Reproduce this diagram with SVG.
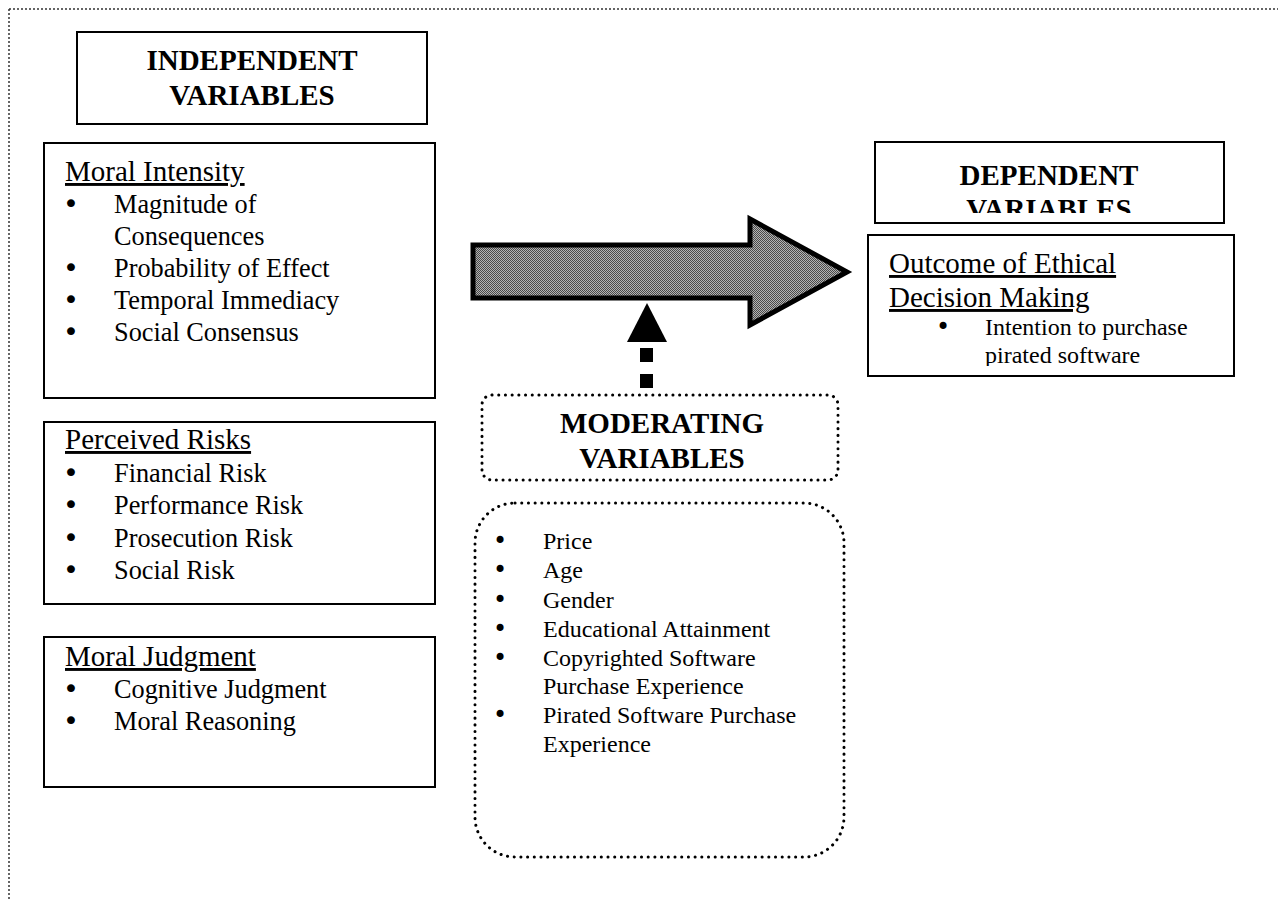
<svg xmlns="http://www.w3.org/2000/svg" width="1278" height="899" viewBox="0 0 1278 899">
  <defs>
    <style>
      text { font-family: "Liberation Serif", "Times New Roman", serif; fill: #000; }
      .hdr { font-size: 29px; font-weight: bold; text-anchor: middle; }
      .ttl { font-size: 29px; text-decoration: underline; }
      .itm { font-size: 26.3px; }
      .sm { font-size: 24px; }
      .bl { font-family: "DejaVu Sans", sans-serif; font-size: 27px; }
      .bs { font-family: "DejaVu Sans", sans-serif; font-size: 24px; }
      .box { fill: #fff; stroke: #000; stroke-width: 2; }
      .dot { fill: none; stroke: #000; stroke-width: 3; stroke-linecap: round; stroke-dasharray: 0.1 6.6; }
      .page { fill: none; stroke: #333; stroke-width: 1.5; stroke-dasharray: 2 2; }
    </style>
    <pattern id="checker" x="0" y="0" width="2" height="2" patternUnits="userSpaceOnUse">
      <rect width="2" height="2" fill="#b4b4b4"/>
      <rect width="1" height="1" fill="#4a4a4a"/>
      <rect x="1" y="1" width="1" height="1" fill="#4a4a4a"/>
    </pattern>
    <clipPath id="clipDep"><rect x="876" y="143" width="347" height="70"/></clipPath>
    <clipPath id="clipOut"><rect x="869" y="236" width="364" height="130"/></clipPath>
  </defs>

  <g id="page-border">
    <line class="page" x1="9" y1="9" x2="1278" y2="9"/>
    <line class="page" x1="9" y1="9" x2="9" y2="899"/>
  </g>

  <g id="independent-header">
    <rect class="box" x="77" y="32" width="350" height="92"/>
    <text class="hdr" x="252" y="70">INDEPENDENT</text>
    <text class="hdr" x="252" y="105">VARIABLES</text>
  </g>

  <g id="moral-intensity">
    <rect class="box" x="44" y="143" width="391" height="255"/>
    <text class="ttl" x="65" y="181">Moral Intensity</text>
    <text class="bl" x="63" y="213">•</text>
    <text class="itm" x="114" y="213">Magnitude of</text>
    <text class="itm" x="114" y="245">Consequences</text>
    <text class="bl" x="63" y="277">•</text>
    <text class="itm" x="114" y="277">Probability of Effect</text>
    <text class="bl" x="63" y="309">•</text>
    <text class="itm" x="114" y="309">Temporal Immediacy</text>
    <text class="bl" x="63" y="341">•</text>
    <text class="itm" x="114" y="341">Social Consensus</text>
  </g>

  <g id="perceived-risks">
    <rect class="box" x="44" y="422" width="391" height="182"/>
    <text class="ttl" x="65" y="449">Perceived Risks</text>
    <text class="bl" x="63" y="482">•</text>
    <text class="itm" x="114" y="482">Financial Risk</text>
    <text class="bl" x="63" y="514">•</text>
    <text class="itm" x="114" y="514">Performance Risk</text>
    <text class="bl" x="63" y="547">•</text>
    <text class="itm" x="114" y="547">Prosecution Risk</text>
    <text class="bl" x="63" y="579">•</text>
    <text class="itm" x="114" y="579">Social Risk</text>
  </g>

  <g id="moral-judgment">
    <rect class="box" x="44" y="637" width="391" height="150"/>
    <text class="ttl" x="65" y="666">Moral Judgment</text>
    <text class="bl" x="63" y="698">•</text>
    <text class="itm" x="114" y="698">Cognitive Judgment</text>
    <text class="bl" x="63" y="730">•</text>
    <text class="itm" x="114" y="730">Moral Reasoning</text>
  </g>

  <g id="dependent-header">
    <rect class="box" x="875" y="142" width="349" height="81"/>
    <g clip-path="url(#clipDep)">
      <text class="hdr" x="1049" y="185">DEPENDENT</text>
      <text class="hdr" x="1049" y="219">VARIABLES</text>
    </g>
  </g>

  <g id="outcome">
    <rect class="box" x="868" y="235" width="366" height="141"/>
    <g clip-path="url(#clipOut)">
      <text class="ttl" x="889" y="273">Outcome of Ethical</text>
      <text class="ttl" x="889" y="307">Decision Making</text>
      <text class="bs" x="936" y="335">•</text>
      <text class="sm" x="985" y="335">Intention to purchase</text>
      <text class="sm" x="985" y="363">pirated software</text>
    </g>
  </g>

  <g id="moderating-header">
    <rect class="dot" x="482" y="395" width="356" height="85" rx="10" ry="10"/>
    <text class="hdr" x="662" y="433">MODERATING</text>
    <text class="hdr" x="662" y="468">VARIABLES</text>
  </g>

  <g id="moderating-list">
    <rect class="dot" x="475" y="503" width="369" height="354" rx="40" ry="40"/>
    <text class="bs" x="493" y="549">•</text>
    <text class="sm" x="543" y="549">Price</text>
    <text class="bs" x="493" y="578">•</text>
    <text class="sm" x="543" y="578">Age</text>
    <text class="bs" x="493" y="608">•</text>
    <text class="sm" x="543" y="608">Gender</text>
    <text class="bs" x="493" y="637">•</text>
    <text class="sm" x="543" y="637">Educational Attainment</text>
    <text class="bs" x="493" y="666">•</text>
    <text class="sm" x="543" y="666">Copyrighted Software</text>
    <text class="sm" x="543" y="694">Purchase Experience</text>
    <text class="bs" x="493" y="723">•</text>
    <text class="sm" x="543" y="723">Pirated Software Purchase</text>
    <text class="sm" x="543" y="752">Experience</text>
  </g>

  <g id="connectors">
    <polygon points="473,245 750,245 750,219 847,272 750,325 750,298 473,298" fill="url(#checker)" stroke="#000" stroke-width="5" stroke-linejoin="miter"/>
    <g id="moderating-arrow" fill="#000">
      <polygon points="647,303 667,342 627,342"/>
      <rect x="640" y="348" width="13" height="14"/>
      <rect x="640" y="374" width="13" height="14"/>
    </g>
  </g>
</svg>
